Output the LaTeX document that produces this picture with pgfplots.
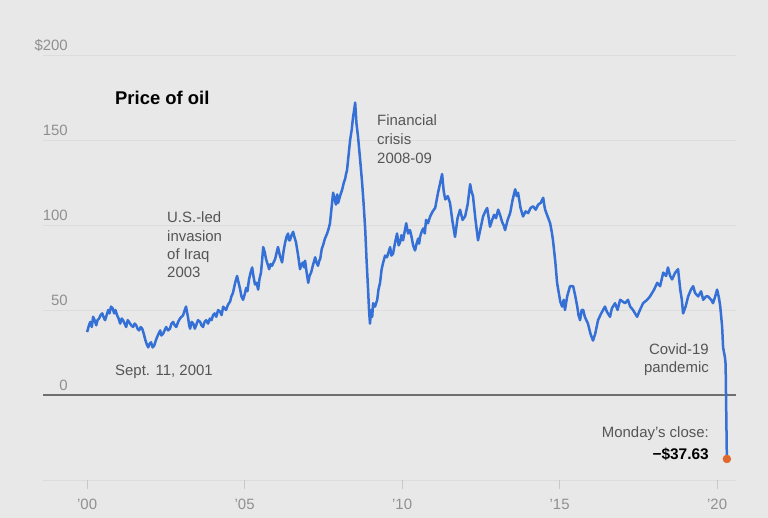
\documentclass[border=0pt]{standalone}
\usepackage{fontspec}
\setmainfont{Liberation Sans}
\usepackage{pgfplots}
\pgfplotsset{compat=1.18}
\definecolor{bg}{HTML}{E8E8E8}
\definecolor{gridc}{HTML}{DCDCDC}
\definecolor{zeroc}{HTML}{6E6E6E}
\definecolor{oilblue}{HTML}{3570D6}
\definecolor{dotor}{HTML}{E2672B}
\definecolor{labc}{HTML}{909090}
\definecolor{annc}{HTML}{555555}
\definecolor{tickc}{HTML}{C8C8C8}
\begin{document}
\begin{tikzpicture}[x=1bp,y=1bp]
\useasboundingbox (-43,-38) rectangle (725,480);
\fill[bg] (-43,-38) rectangle (725,480);
\begin{axis}[
  at={(0,0)}, anchor=south west,
  scale only axis, width=693bp, height=425bp,
  xmin=1998.6, xmax=2020.6, ymin=-50, ymax=200,
  axis line style={draw=none},
  ymajorgrids, grid style={gridc, line width=0.8bp},
  ytick={-50,0,50,100,150,200}, yticklabels={,0,50,100,150,\$200},
  ytick style={draw=none},
  yticklabel style={anchor=base east, xshift=34bp, yshift=4.5bp, inner sep=0pt,
     font=\fontsize{15}{18}\selectfont, text=labc},
  xtick={2000,2005,2010,2015,2020}, xticklabels={’00,’05,’10,’15,’20},
  xtick pos=bottom, tick align=outside, major tick length=9bp,
  xtick style={tickc, line width=0.8bp},
  xticklabel style={anchor=base, inner sep=0pt, yshift=-21bp,
     font=\fontsize{15}{18}\selectfont, text=labc},
  clip=false,
]
\draw[zeroc, line width=1.5bp] (axis cs:1998.6,0) -- (axis cs:2020.6,0);
\addplot[oilblue, line width=2.5bp, line join=round, mark=none] table {
2000.00 37
2000.06 41
2000.10 43
2000.15 40
2000.19 46
2000.24 44
2000.29 41
2000.33 44
2000.38 45
2000.43 47
2000.48 48
2000.52 46
2000.57 44
2000.62 47
2000.67 50
2000.71 48
2000.76 52
2000.81 51
2000.86 48
2000.90 50
2000.95 47
2001.00 45
2001.05 42
2001.10 45
2001.14 44
2001.19 42
2001.24 40
2001.29 44
2001.33 43
2001.40 41
2001.46 40
2001.51 42
2001.56 41
2001.60 39
2001.65 38
2001.70 40
2001.75 39
2001.80 36
2001.84 33
2001.89 30
2001.94 28
2001.98 30
2002.03 31
2002.08 28
2002.13 29
2002.18 32
2002.22 34
2002.27 36
2002.32 38
2002.36 35
2002.41 36
2002.46 38
2002.51 40
2002.57 38
2002.63 39
2002.68 42
2002.73 43
2002.78 41
2002.83 40
2002.89 43
2002.95 45
2003.00 46
2003.05 47
2003.10 50
2003.14 52
2003.18 48
2003.21 45
2003.24 41
2003.27 39
2003.32 43
2003.37 42
2003.42 39
2003.46 41
2003.52 44
2003.59 43
2003.63 41
2003.68 40
2003.73 43
2003.78 44
2003.84 42
2003.90 45
2003.95 44
2004.00 47
2004.05 48
2004.10 46
2004.16 50
2004.22 49
2004.27 47
2004.32 52
2004.36 51
2004.41 50
2004.47 53
2004.54 55
2004.58 58
2004.63 60
2004.70 66
2004.76 70
2004.81 66
2004.86 62
2004.90 58
2004.95 56
2005.00 59
2005.05 63
2005.09 61
2005.14 68
2005.19 72
2005.24 75
2005.28 70
2005.33 65
2005.38 66
2005.43 62
2005.47 68
2005.52 72
2005.56 80
2005.59 87
2005.64 84
2005.68 80
2005.73 77
2005.78 74
2005.82 77
2005.87 76
2005.92 78
2005.97 80
2006.02 84
2006.06 87
2006.12 82
2006.19 78
2006.24 85
2006.29 90
2006.33 93
2006.38 95
2006.41 91
2006.44 91
2006.49 94
2006.54 96
2006.58 93
2006.63 90
2006.70 82
2006.76 74
2006.81 77
2006.86 78
2006.89 75
2006.92 79
2006.97 72
2007.02 66
2007.06 70
2007.11 72
2007.18 77
2007.24 81
2007.28 78
2007.33 76
2007.37 79
2007.40 80
2007.45 86
2007.49 88
2007.55 92
2007.62 95
2007.67 98
2007.71 101
2007.76 110
2007.81 119
2007.85 116
2007.90 112
2007.94 118
2007.97 113
2008.03 117
2008.10 121
2008.15 125
2008.19 127
2008.22 130
2008.25 132
2008.30 141
2008.35 150
2008.40 156
2008.44 163
2008.48 168
2008.51 172
2008.55 160
2008.60 152
2008.66 140
2008.73 125
2008.78 112
2008.83 97
2008.87 80
2008.92 62
2008.95 50
2008.98 42
2009.02 50
2009.05 46
2009.08 54
2009.14 52
2009.21 56
2009.25 62
2009.30 66
2009.35 74
2009.40 78
2009.46 82
2009.52 81
2009.57 84
2009.62 87
2009.66 82
2009.71 83
2009.78 90
2009.84 95
2009.89 88
2009.94 90
2009.98 94
2010.03 91
2010.08 96
2010.13 101
2010.19 95
2010.25 97
2010.30 93
2010.35 88
2010.41 85
2010.46 89
2010.51 92
2010.54 89
2010.57 93
2010.62 96
2010.67 98
2010.72 95
2010.76 103
2010.82 101
2010.89 105
2010.97 108
2011.05 110
2011.10 115
2011.14 119
2011.20 124
2011.27 130
2011.32 120
2011.37 115
2011.45 117
2011.52 113
2011.60 102
2011.68 93
2011.76 104
2011.84 109
2011.92 103
2012.00 105
2012.08 112
2012.16 124
2012.20 120
2012.25 117
2012.33 103
2012.41 91
2012.49 98
2012.57 105
2012.64 108
2012.70 110
2012.75 104
2012.79 99
2012.86 103
2012.92 106
2012.98 104
2013.05 109
2013.11 106
2013.17 102
2013.22 100
2013.27 97
2013.35 103
2013.43 107
2013.51 115
2013.59 121
2013.64 117
2013.68 119
2013.76 110
2013.84 105
2013.92 108
2014.00 107
2014.08 110
2014.16 111
2014.24 109
2014.32 112
2014.40 113
2014.48 116
2014.51 112
2014.54 109
2014.62 105
2014.70 101
2014.75 96
2014.79 91
2014.86 79
2014.92 66
2015.02 55
2015.08 52
2015.13 56
2015.17 50
2015.24 58
2015.33 64
2015.43 64
2015.50 58
2015.56 52
2015.60 47
2015.65 44
2015.70 50
2015.75 50
2015.80 46
2015.90 42
2015.98 36
2016.06 32
2016.13 36
2016.22 44
2016.32 48
2016.44 52
2016.50 49
2016.60 46
2016.66 51
2016.76 54
2016.84 50
2016.92 56
2017.00 55
2017.08 54
2017.17 56
2017.24 52
2017.33 50
2017.46 46
2017.55 50
2017.65 54
2017.78 56
2017.87 58
2018.00 62
2018.10 66
2018.19 64
2018.29 72
2018.38 70
2018.44 75
2018.51 70
2018.57 68
2018.67 72
2018.76 74
2018.83 62
2018.88 56
2018.92 48
2019.00 52
2019.08 58
2019.17 62
2019.24 64
2019.30 60
2019.40 58
2019.49 61
2019.56 56
2019.65 58
2019.71 58
2019.81 56
2019.87 54
2019.94 58
2020.00 62
2020.06 57
2020.10 52
2020.16 40
2020.19 28
2020.22 25
2020.25 22
2020.27 18
2020.31 -37.63
};
\addplot[only marks, mark=*, mark size=4bp, color=dotor] coordinates {(2020.31,-37.63)};
\end{axis}
\node[anchor=base west, inner sep=0pt, font=\fontsize{18.5}{22}\selectfont\bfseries] at (72,375) {Price of oil};
\begin{scope}[every node/.style={inner sep=0pt, font=\fontsize{15}{18}\selectfont, text=annc}]
\node[anchor=base west] at (124,257) {U.S.-led};
\node[anchor=base west] at (124,238.5) {invasion};
\node[anchor=base west] at (124,220) {of Iraq};
\node[anchor=base west] at (124,202) {2003};
\node[anchor=base west] at (334,354) {Financial};
\node[anchor=base west] at (334,335) {crisis};
\node[anchor=base west] at (334,316) {2008-09};
\node[anchor=base west] at (72,104) {Sept. 11, 2001};
\node[anchor=base east] at (666,125) {Covid-19};
\node[anchor=base east] at (666,107) {pandemic};
\node[anchor=base east] at (666,42) {Monday’s close:};
\node[anchor=base east, text=black, font=\fontsize{15.5}{18}\selectfont\bfseries] at (666,20) {−\$37.63};
\end{scope}
\end{tikzpicture}
\end{document}
